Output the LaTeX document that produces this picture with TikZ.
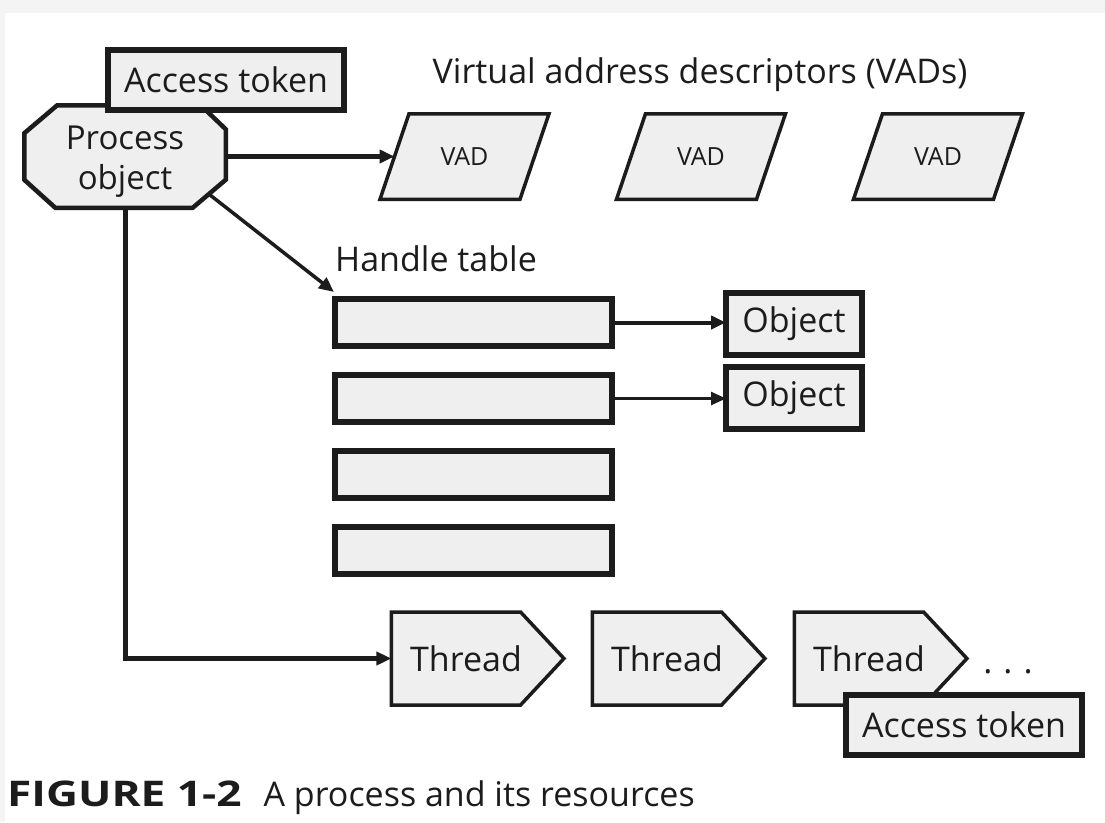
\documentclass[tikz,border=0pt]{standalone}
\usepackage{fontspec}
\setmainfont{Open Sans}
\usetikzlibrary{shapes.symbols,arrows.meta}
\definecolor{boxfill}{HTML}{EFEFEF}
\definecolor{ink}{HTML}{1C1C1C}
\definecolor{band}{HTML}{F4F4F4}
\begin{document}
\begin{tikzpicture}[x=1pt,y=-1pt,
  txt/.style={font=\fontsize{34}{40}\selectfont, text=ink},
  shp/.style={draw=ink, fill=boxfill, inner sep=0pt, outer sep=0pt, txt},
  tokenbox/.style={shp, rectangle, line width=6pt, minimum width=236pt, minimum height=60pt},
  rowbox/.style={shp, rectangle, line width=6pt, minimum width=277pt, minimum height=47pt},
  objbox/.style={shp, rectangle, line width=6pt, minimum width=136pt, minimum height=62pt},
  vadline/.style={draw=ink, fill=boxfill, line width=3.5pt, line join=miter},
  vadbox/.style={rectangle, inner sep=0pt, outer sep=0pt, minimum width=140pt, minimum height=85.5pt, text=ink, font=\fontsize{25}{30}\selectfont},
  threadbox/.style={shp, signal, signal to=east, signal pointer angle=94, line width=3.5pt, minimum width=172.5pt, minimum height=93pt},
  octline/.style={draw=ink, fill=boxfill, line width=4.5pt, line join=miter},
  procframe/.style={rectangle, inner sep=0pt, outer sep=0pt, minimum width=201.5pt, minimum height=102.5pt},
  conn/.style={draw=ink},
  tip/.style={-{Triangle[length=15pt,width=13pt]}},
]
\newcommand{\thr}{\makebox[0pt][c]{\hspace{20pt}Thread}}
\useasboundingbox (0,0) rectangle (1105,822);
\fill[white] (0,0) rectangle (1105,822);
\fill[band] (0,0) rectangle (1105,13);
\fill[band] (0,0) rectangle (5,822);

% process and its token
\node[procframe] (proc) at (125,156.5) {};
\path[octline] ([xshift=33pt]proc.north west) -- ([xshift=-25pt]proc.north east)
  -- ([yshift=-24pt]proc.north east) -- ([yshift=28pt]proc.south east)
  -- ([xshift=-33pt]proc.south east) -- ([xshift=31pt]proc.south west)
  -- ([yshift=28pt]proc.south west) -- ([yshift=-28pt]proc.north west) -- cycle;
\node[txt, align=center, inner sep=0pt, font=\fontsize{33}{40}\selectfont] (proctxt) at ([yshift=-5pt]proc.center) {Process\\object};
\node[tokenbox] (tok1) at (226,80) {Access token};

% VADs
\node[txt] (vadlbl) at (700,75) {Virtual address descriptors (VADs)};
\foreach \cx [count=\i] in {464.5,701,938}{
  \path[vadline] (\cx-84.5,199.25) -- (\cx-55.5,113.75) -- (\cx+84.5,113.75) -- (\cx+55.5,199.25) -- cycle;
  \node[vadbox] (vad\i) at (\cx,156.5) {VAD};
}

% handle table
\node[txt, anchor=west, inner sep=0pt] (hlbl) at (335,259) {Handle table};
\node[rowbox] (h1) at (473.5,322.5) {};
\node[rowbox] (h2) at (473.5,398.5) {};
\node[rowbox] (h3) at (473.5,474.5) {};
\node[rowbox] (h4) at (473.5,550.5) {};
\node[objbox] (o1) at (794,324) {Object};
\node[objbox] (o2) at (794,397.5) {Object};

% threads
\node[threadbox] (t1) at (456,658.5) {\thr};
\node[threadbox] (t2) at (657,658.5) {\thr};
\node[threadbox] (t3) at (859,658.5) {\thr};
\node[txt, inner sep=0pt] (dots) at (1008,672) {.\hspace{11pt}.\hspace{11pt}.};
\node[tokenbox] (tok2) at (964,724.5) {Access token};

% connectors
\draw[conn, tip, line width=5pt] (proc.east) -- (vad1.west);
\draw[conn, tip, line width=3.5pt] ([xshift=-16pt,yshift=13pt]proc.south east) -- ([xshift=-1pt,yshift=7pt]h1.north west);
\draw[conn, tip, line width=5pt] (proc.south) |- (t1.west);
\draw[conn, tip, line width=4pt] (h1.east) -- (o1.west |- h1.east);
\draw[conn, tip, line width=2.5pt] (h2.east) -- (o2.west |- h2.east);

% caption
\node[txt, anchor=base west, inner sep=0pt] (cap) at (7,806) {\scalebox{1.3}[1.04]{\textbf{FIGURE 1-2}}\hspace{22pt}A process and its resources};
\end{tikzpicture}
\end{document}
